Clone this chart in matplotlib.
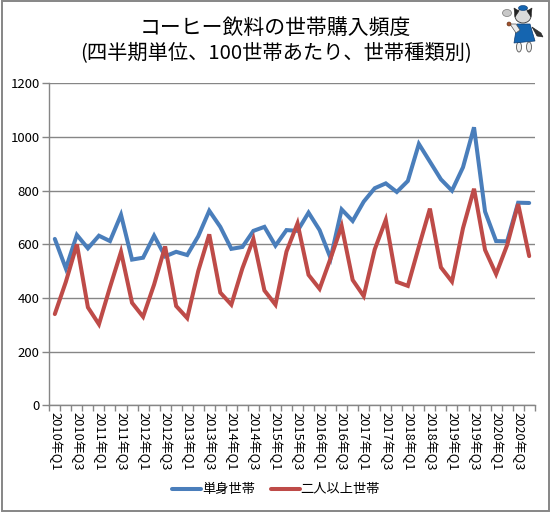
import matplotlib
matplotlib.use("Agg")
import matplotlib.pyplot as plt
import numpy as np
from matplotlib.patches import Rectangle, Ellipse, Polygon

plt.rcParams['font.family'] = ['Noto Sans CJK JP', 'DejaVu Sans']

W, H = 551, 513

years = list(range(2010, 2021))
quarters = [f"{y}年Q{q}" for y in years for q in (1, 2, 3, 4)]

single = [620, 510, 635, 585, 632, 612, 710, 543, 550, 632, 555,
          572, 560, 630, 725, 665, 583, 590, 650, 665, 595, 653,
          650, 718, 653, 548, 730, 687, 759, 809, 827, 795, 836,
          974, 908, 842, 800, 887, 1036, 722, 612, 611, 755, 754]
multi = [340, 460, 600, 365, 302, 440, 572, 382, 330, 450, 592,
         370, 325, 500, 637, 420, 375, 510, 620, 428, 375, 573,
         678, 486, 434, 548, 668, 467, 407, 581, 691, 460, 445,
         591, 733, 514, 461, 660, 807, 579, 489, 597, 750, 556]

yticks = [0, 200, 400, 600, 800, 1000, 1200]
grey = "#868686"

fig = plt.figure(figsize=(W / 100, H / 100), dpi=100)
ax = fig.add_axes([49.3 / W, 1 - 405.3 / H, 485.4 / W, 322 / H])

x = np.arange(len(quarters))
ax.plot(x, single, color="#4A7EBB", lw=2.9, label="単身世帯", solid_capstyle="round", solid_joinstyle="miter")
ax.plot(x, multi, color="#BE4B48", lw=2.9, label="二人以上世帯", solid_capstyle="round", solid_joinstyle="miter")

ax.set_xlim(-0.5, len(quarters) - 0.5)
ax.set_ylim(0, 1200)
ax.set_yticks(yticks)
ax.tick_params(axis="y", length=5, width=1, color=grey, labelsize=9.5, pad=2)
ax.yaxis.grid(True, color=grey, lw=1)
ax.set_axisbelow(True)

# ticks sit between the categories, labels on every second category
ax.set_xticks(np.arange(len(quarters) + 1) - 0.5)
ax.set_xticklabels([])
ax.tick_params(axis="x", length=4, width=1, color=grey)
for i in range(0, len(quarters), 2):
    ax.annotate(quarters[i], (i, 0), xytext=(0, -4.5), textcoords="offset points",
                xycoords=("data", "data"), rotation=270, ha="center", va="top", fontsize=9.3)

for s in ("top", "right"):
    ax.spines[s].set_visible(False)
for s in ("left", "bottom"):
    ax.spines[s].set_color(grey)
    ax.spines[s].set_linewidth(1)

fig.legend(loc="center", bbox_to_anchor=(276 / W, 1 - 490 / H), ncol=2, frameon=False,
           fontsize=9.5, handlelength=2.2, handletextpad=0.05, columnspacing=1.2)

fig.text(275 / W, 1 - 28 / H, "コーヒー飲料の世帯購入頻度", ha="center", va="center", fontsize=15)
fig.text(275.5 / W, 1 - 53 / H, "(四半期単位、100世帯あたり、世帯種類別)", ha="center", va="center", fontsize=14.6)

# outer chart frame
fig.add_artist(Rectangle((1.5 / W, 1 - 511 / H), 547.5 / W, 510 / H, transform=fig.transFigure,
                         fill=False, ec=grey, lw=1.4))

# small mascot in the top right corner
ov = fig.add_axes([0, 0, 1, 1], facecolor="none")
ov.set_xlim(0, W)
ov.set_ylim(H, 0)
ov.axis("off")
ov.add_patch(Ellipse((507, 13), 9, 7, fc="#C8C8C8", ec="#777777", lw=0.5))
ov.add_patch(Polygon([(532, 27), (541, 33), (543, 37), (537, 36)], fc="#333333", ec="#222222", lw=0.4))
ov.add_patch(Ellipse((519, 47), 5, 10, fc="#EDEDED", ec="#555555", lw=0.6))
ov.add_patch(Ellipse((529, 47), 5, 10, fc="#EDEDED", ec="#555555", lw=0.6))
ov.add_patch(Polygon([(517, 24), (530, 24), (535, 41), (514, 43)], fc="#1565B0", ec="#0D3C73", lw=0.5))
ov.add_patch(Polygon([(510, 24), (516, 24), (520, 30), (516, 33)], fc="#EDEDED", ec="#555555", lw=0.5))
ov.add_patch(Ellipse((509, 24), 4, 4, fc="#A0522D", ec="#5A2A10", lw=0.4))
ov.add_patch(Ellipse((523, 16), 16, 14, fc="#DADADA", ec="#333333", lw=0.6))
ov.add_patch(Polygon([(514, 8), (519, 11), (515, 17)], fc="#222222", ec="#222222", lw=0.4))
ov.add_patch(Polygon([(532, 8), (527, 11), (531, 17)], fc="#222222", ec="#222222", lw=0.4))
ov.add_patch(Ellipse((523, 8), 9, 5, fc="#1565B0", ec="#0D3C73", lw=0.4))

fig.savefig("out.png", dpi=100)
